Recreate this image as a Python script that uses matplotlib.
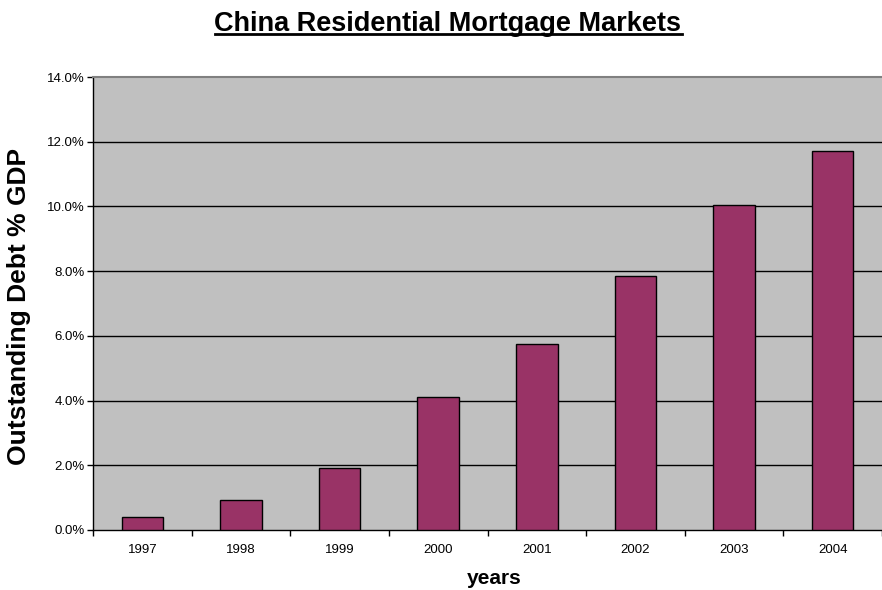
import matplotlib
matplotlib.use("Agg")
import matplotlib.pyplot as plt
from matplotlib.lines import Line2D
from matplotlib.ticker import FixedLocator, FuncFormatter

years = ["1997", "1998", "1999", "2000", "2001", "2002", "2003", "2004"]
debt_pct_gdp = [0.39, 0.92, 1.93, 4.11, 5.75, 7.85, 10.03, 11.70]
yticks = [0, 2, 4, 6, 8, 10, 12, 14]

plt.rcParams['font.family'] = ['Liberation Sans', 'DejaVu Sans']

fig = plt.figure(figsize=(8.82, 5.90), dpi=100)
ax = fig.add_axes([93/882, 60/590, 1 - 93/882, (530-77)/590])
ax.set_facecolor('#C0C0C0')

x = list(range(len(years)))
ax.bar(x, debt_pct_gdp, width=0.42, color='#993366', edgecolor='black', linewidth=1.0, zorder=3)

ax.set_xlim(-0.5, len(years) - 0.5)
ax.set_ylim(0, 14)
ax.set_yticks(yticks)
ax.yaxis.set_major_formatter(FuncFormatter(lambda v, p: f"{v:.1f}%"))
ax.set_xticks(x)
ax.set_xticklabels(years)
ax.xaxis.set_minor_locator(FixedLocator([i - 0.5 for i in range(len(years) + 1)]))
ax.tick_params(axis='x', which='major', length=0, labelsize=9.5, pad=10)
ax.tick_params(axis='x', which='minor', length=4, width=1, direction='out', color='black')
ax.tick_params(axis='y', which='major', length=4, width=1, direction='out', labelsize=9.5, pad=2)

for v in yticks[1:-1]:
    ax.axhline(v, color='black', linewidth=1.0, zorder=2)

ax.spines['right'].set_visible(False)
ax.spines['top'].set_color('#808080')
ax.spines['top'].set_linewidth(1.5)
ax.spines['left'].set_color('black')
ax.spines['bottom'].set_color('black')
ax.spines['left'].set_linewidth(1.0)
ax.spines['bottom'].set_linewidth(1.0)

ax.set_xlabel('years', fontsize=15, fontweight='bold', va='center')
ax.xaxis.set_label_coords((494 - 93) / 789, (530 - 578) / 453)
ax.set_ylabel('Outstanding Debt % GDP', fontsize=19, fontweight='bold', va='center')
ax.yaxis.set_label_coords((19 - 93) / 789, (530 - 306.5) / 453)

title_base_px = 31
title = fig.text(448/882, 1 - title_base_px/590, 'China Residential Mortgage Markets', ha='center',
                 va='baseline', fontsize=19.5, fontweight='bold')

fig.canvas.draw()
bb = title.get_window_extent(fig.canvas.get_renderer())
inv = fig.transFigure.inverted()
uy = 590 - (title_base_px + 3)
(x0, y0), (x1, y1) = inv.transform([[bb.x0, uy], [bb.x1, uy]])
fig.add_artist(Line2D([x0, x1], [y0, y1], transform=fig.transFigure, color='black', linewidth=2.0))

fig.savefig('out.png', dpi=100)
